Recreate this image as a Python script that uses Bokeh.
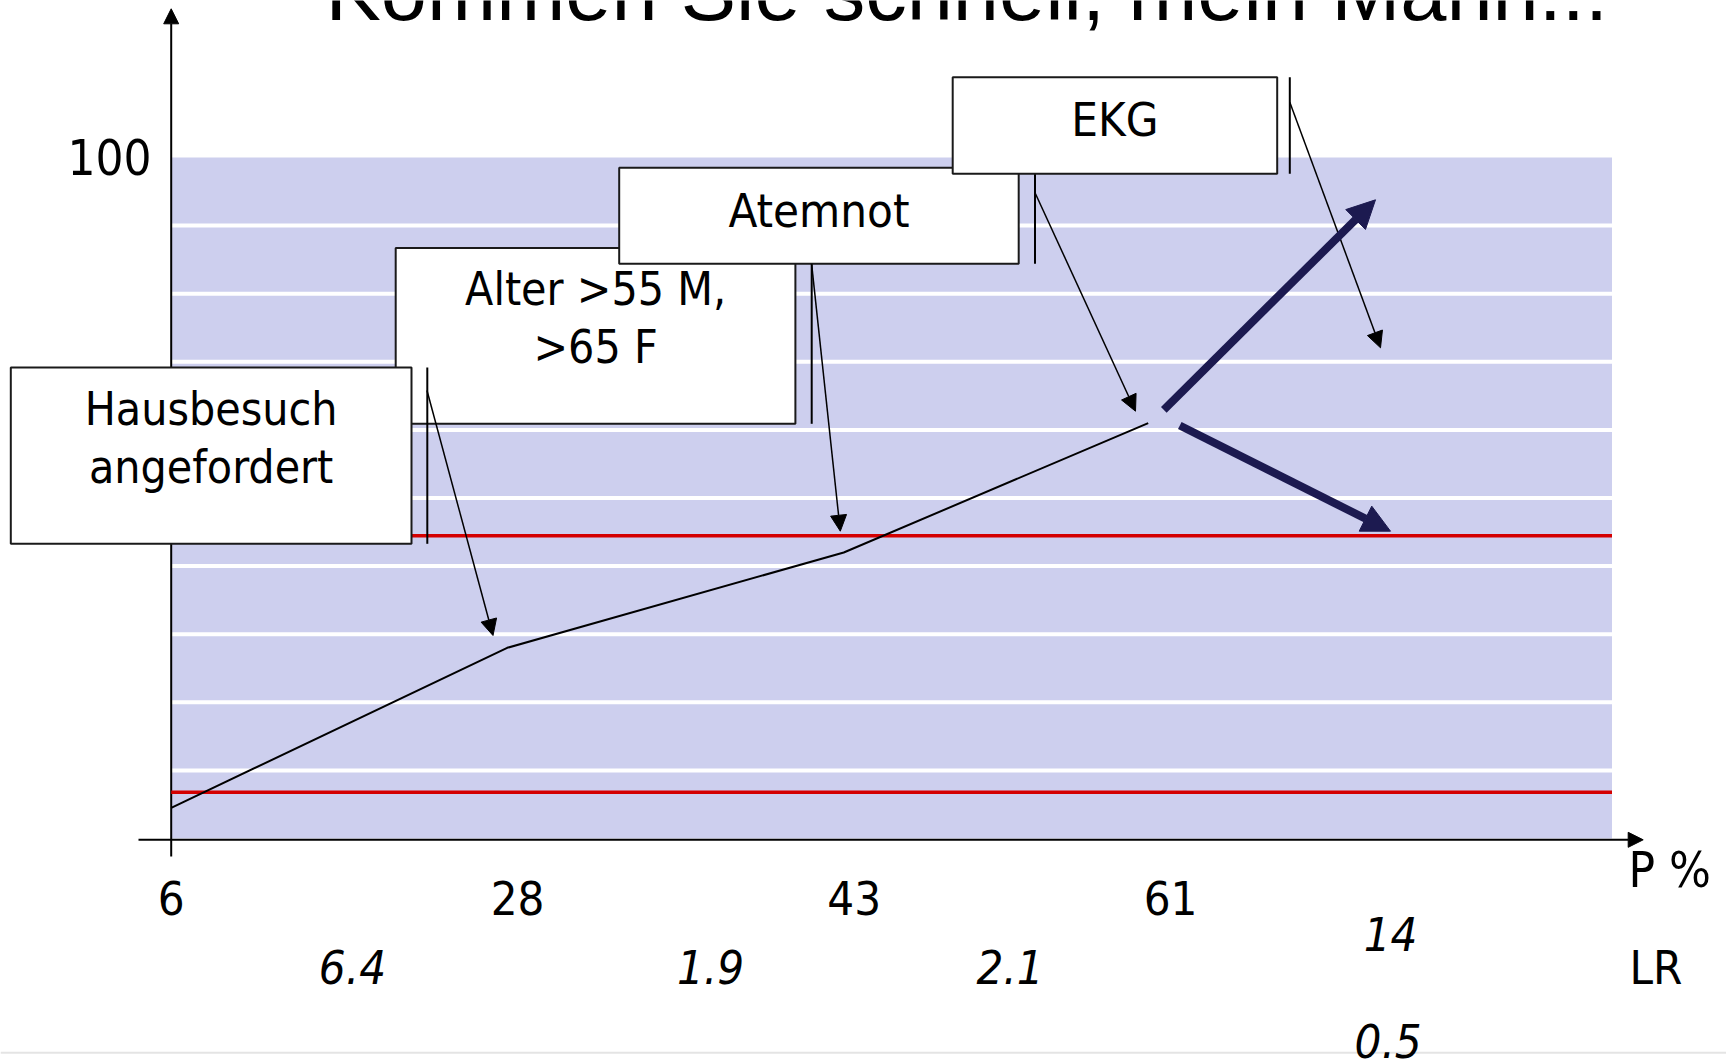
from bokeh.plotting import figure
from bokeh.models import Range1d, Arrow, NormalHead, Label
from bokeh.core.properties import value
from bokeh.embed import file_html
from bokeh.resources import INLINE

# ---------------- data ----------------
title_text = "Kommen Sie schnell, mein Mann..."
stage_x = [0.0, 23.32, 46.68, 67.81]          # step position along the diagram (0-100)
p_values = [4.5, 28, 42, 61]                   # probability P % after each step
p_labels = ["6", "28", "43", "61"]
p_label_x = [0.0, 24.04, 47.40, 69.36]
lr_labels = ["6.4", "1.9", "2.1"]
lr_label_x = [12.58, 37.43, 58.22]
ekg_lr_labels = ["14", "0.5"]
ekg_lr_x = [84.63, 84.46]
thresholds = [44.45, 6.8]
grid_levels = [10, 20, 30, 40, 50, 60, 70, 80, 90]
y_tick_label = "100"
findings = [["Alter >55 M,", ">65 F"], ["Atemnot"], ["EKG"], ["Hausbesuch", "angefordert"]]

# ---------------- layout ----------------
W, H = 1726, 1060
OX, OY = 170.7, 838.0      # page pixel of data origin
SX, SY = 14.408, 6.81      # pixels per data unit
BASE_SHIFT = 0.36          # em correction for alphabetic baseline in the svg output


def fx(px):
    return (px - OX) / SX


def fy(py):
    return (OY - py) / SY


def tb(py, size):
    return fy(py - BASE_SHIFT * size)


FONT = "DejaVu Sans Condensed"
NAVY = "#1C1A50"

p = figure(width=W, height=H, x_range=Range1d(fx(0), fx(W)), y_range=Range1d(fy(H), fy(0)),
           x_axis_type=None, y_axis_type=None, output_backend="svg", toolbar_location=None,
           min_border=0, outline_line_color=None, background_fill_color="white",
           border_fill_color="white")

# shaded band + white stripes
p.quad(left=0, right=100, bottom=0, top=100, fill_color="#CDCFEE", line_color=None, level="image")
p.segment(x0=[0] * len(grid_levels), x1=[100] * len(grid_levels), y0=grid_levels, y1=grid_levels,
          line_color="white", line_width=4, level="image")

# axes with arrow heads
p.add_layout(Arrow(x_start=0, y_start=fy(856), x_end=0, y_end=fy(8.3), line_width=2, line_color="black",
                   end=NormalHead(size=15, fill_color="black", line_color="black"), level="underlay"))
p.add_layout(Arrow(x_start=fx(138), y_start=fy(839.3), x_end=fx(1642.7), y_end=fy(839.3), line_width=2,
                   line_color="black", end=NormalHead(size=15, fill_color="black", line_color="black"),
                   level="underlay"))

# thresholds
p.segment(x0=[0, 0], x1=[100, 100], y0=thresholds, y1=thresholds, line_color="#D40000", line_width=3.5)

# probability path
p.line(stage_x, p_values, line_color="black", line_width=2)

# boxes (page pixels: left, right, top, bottom), text baselines, text size, connector line
boxes = [
    dict(l=395.2, r=794.9, t=247.5, b=423.3, base=[305, 362.7], size=46, vx=811.2),
    dict(l=618.7, r=1018.2, t=167.3, b=263.3, base=[226.8], size=47, vx=1034.5),
    dict(l=952.2, r=1276.7, t=76.8, b=173.3, base=[136], size=47, vx=1289.3),
    dict(l=10.3, r=411.0, t=367.0, b=543.3, base=[425, 483.3], size=46, vx=426.8),
]
for bx, lines in zip(boxes, findings):
    p.quad(left=fx(bx["l"]), right=fx(bx["r"]), top=fy(bx["t"]), bottom=fy(bx["b"]),
           fill_color="white", line_color="#1a1a1a", line_width=2)
    p.segment(x0=fx(bx["vx"]), x1=fx(bx["vx"]), y0=fy(bx["t"]), y1=fy(bx["b"]),
              line_color="black", line_width=2)
    cx = fx((bx["l"] + bx["r"]) / 2)
    p.text(x=[cx] * len(lines), y=[tb(b, bx["size"]) for b in bx["base"]], text=lines,
           text_font=value(FONT), text_font_size=f"{bx['size']}px", text_align="center",
           text_baseline="alphabetic", text_color="black")

# thin arrows from the findings
thin = [((426.5, 390), (492.5, 635)), ((811.1, 263.3), (839.8, 530.7)),
        ((1034.3, 191.7), (1135, 410.7)), ((1289.3, 101.7), (1380, 347.3))]
for (x0, y0), (x1, y1) in thin:
    p.add_layout(Arrow(x_start=fx(x0), y_start=fy(y0), x_end=fx(x1), y_end=fy(y1), line_width=1.5,
                       line_color="black", end=NormalHead(size=16, fill_color="black", line_color="black")))

# thick arrows (EKG positive / negative)
thick = [((1163.3, 409.3), (1375, 199.3)), ((1179.3, 425), (1390, 530.7))]
for (x0, y0), (x1, y1) in thick:
    p.add_layout(Arrow(x_start=fx(x0), y_start=fy(y0), x_end=fx(x1), y_end=fy(y1), line_width=8,
                       line_color=NAVY, end=NormalHead(size=28, fill_color=NAVY, line_color=NAVY)))

# tick-like labels
p.text(x=[fx(151)], y=[tb(174.3, 49)], text=[y_tick_label], text_font=value(FONT), text_font_size="49px",
       text_align="right", text_baseline="alphabetic", text_color="black")
p.text(x=p_label_x, y=[tb(914, 47)] * len(p_labels), text=p_labels, text_font=value(FONT),
       text_font_size="47px", text_align="center", text_baseline="alphabetic", text_color="black")
p.text(x=[fx(1628)], y=[tb(888, 49)], text=["P %"], text_font=value(FONT),
       text_font_size="49px", text_align="left", text_baseline="alphabetic", text_color="black")
p.text(x=[fx(1629)], y=[tb(984.3, 47)], text=["LR"], text_font=value(FONT),
       text_font_size="47px", text_align="left", text_baseline="alphabetic", text_color="black")
p.text(x=lr_label_x, y=[tb(983.3, 47)] * len(lr_labels), text=lr_labels, text_font=value(FONT),
       text_font_size="47px", text_font_style="italic", text_align="center", text_baseline="alphabetic",
       text_color="black")
p.text(x=ekg_lr_x, y=[tb(950, 47), tb(1057.8, 47)], text=ekg_lr_labels, text_font=value(FONT),
       text_font_size="47px", text_font_style="italic", text_align="center", text_baseline="alphabetic",
       text_color="black")

# slide bottom edge
p.segment(x0=fx(0), x1=fx(W), y0=fy(1052.3), y1=fy(1052.3), line_color="#E4E4E4", line_width=2,
          level="image")

# title, cut off at the top
p.add_layout(Label(x=fx(325), y=tb(21, 83), text=title_text, text_font="Liberation Sans",
                   text_font_size="83px", text_baseline="alphabetic", text_align="left",
                   text_color="black"))

open("out.html", "w").write(file_html(p, INLINE))
